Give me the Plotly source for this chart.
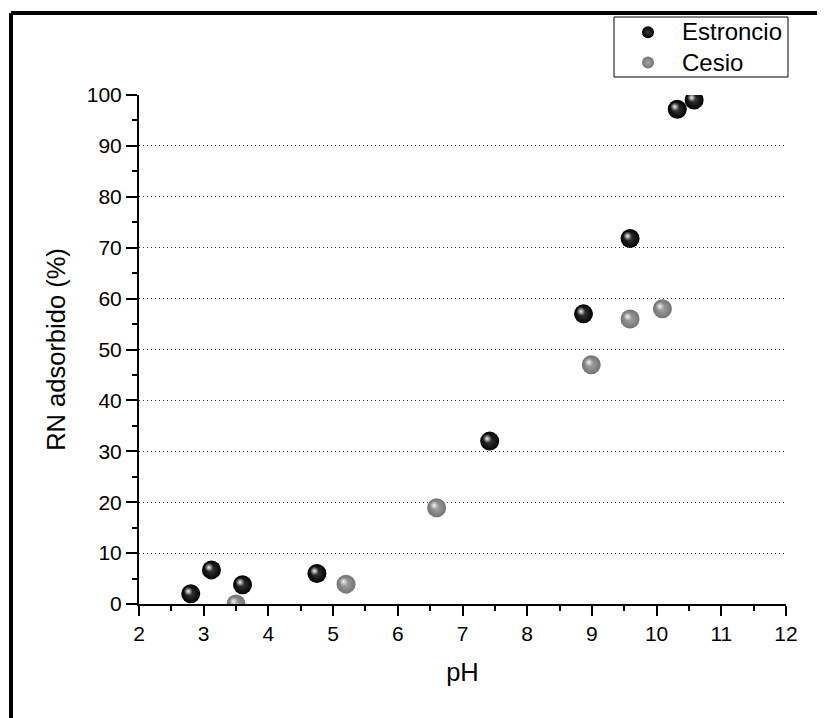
import plotly.graph_objects as go

# Data
sr_ph = [2.80, 3.12, 3.60, 4.75, 7.42, 8.87, 9.59, 10.32, 10.58]
sr_ads = [2.0, 6.7, 3.8, 6.0, 32.0, 57.0, 71.8, 97.2, 99.0]
cs_ph = [3.50, 5.20, 6.60, 8.99, 9.59, 10.09]
cs_ads = [0.0, 3.9, 18.9, 47.0, 56.0, 58.0]
series_names = ["Estroncio", "Cesio"]
x_title = "pH"
y_title = "RN adsorbido (%)"

FONT = "Liberation Sans, Arial, sans-serif"

W, H = 825, 718
L, T = 131, 87
pw, ph = 647, 509
R, B = W - L - pw, H - T - ph

def px2paper(x, y):
    return (x - L) / pw, (H - B - y) / ph

XR = [2, 12]
YR = [0, 100]
# highlight offset (pixels) for sphere shine
hx, hy = 2.5, 2.5
dx = hx * (XR[1] - XR[0]) / pw
dy = hy * (YR[1] - YR[0]) / ph

fig = go.Figure()
fig.add_trace(go.Scatter(
    x=sr_ph, y=sr_ads, mode="markers",
    name="<span style='font-size:24px'>%s</span>" % series_names[0],
    marker=dict(size=19, color="#000000", line=dict(width=0),
                gradient=dict(type="radial", color="#3a3a3a")),
))
fig.add_trace(go.Scatter(
    x=cs_ph, y=cs_ads, mode="markers",
    name="<span style='font-size:24px'>%s</span>" % series_names[1],
    marker=dict(size=19, color="#747474", line=dict(width=0),
                gradient=dict(type="radial", color="#a4a4a4")),
))
for xs, ys in ((sr_ph, sr_ads), (cs_ph, cs_ads)):
    fig.add_trace(go.Scatter(
        x=xs, y=ys, mode="markers", xaxis="x3", yaxis="y3", showlegend=False,
        hoverinfo="skip",
        marker=dict(size=9, color="rgba(220,220,220,0)", line=dict(width=0),
                    gradient=dict(type="radial", color="#f8f8f8")),
    ))

fig.update_layout(
    width=W, height=H,
    margin=dict(l=L, r=R, t=T, b=B, autoexpand=False),
    paper_bgcolor="white", plot_bgcolor="white",
    font=dict(family=FONT, color="black", size=21),
    xaxis=dict(
        range=XR, tick0=2, dtick=1, ticks="outside", ticklen=10, tickwidth=2,
        tickcolor="black", showline=True, linewidth=2, linecolor="black",
        showgrid=False, zeroline=False, tickfont=dict(size=21),
        minor=dict(dtick=0.5, ticks="outside", ticklen=5, tickwidth=2, tickcolor="black", showgrid=False),
        title=dict(text=x_title, font=dict(size=25.5), standoff=19),
        automargin=False,
    ),
    yaxis=dict(
        range=YR, tick0=0, dtick=10, ticks="outside", ticklen=11, tickwidth=2,
        tickcolor="black", showline=True, linewidth=2, linecolor="black",
        showgrid=True, gridcolor="#333333", gridwidth=1, griddash="1px,3px",
        zeroline=False, tickfont=dict(size=21),
        minor=dict(dtick=5, ticks="outside", ticklen=5, tickwidth=2, tickcolor="black", showgrid=False),
        title=dict(text=y_title, font=dict(size=25.5), standoff=14),
        automargin=False,
    ),
    xaxis2=dict(
        overlaying="x", side="top", range=XR, tick0=2, dtick=2,
        ticks="inside", ticklen=10, tickwidth=2, tickcolor="black",
        showline=True, linewidth=2, linecolor="black", showticklabels=False,
        showgrid=False, zeroline=False,
        minor=dict(dtick=1, ticks="inside", ticklen=5, tickwidth=2, tickcolor="black", showgrid=False),
    ),
    yaxis2=dict(
        overlaying="y", side="right", range=YR, tick0=0, dtick=20,
        ticks="inside", ticklen=10, tickwidth=2, tickcolor="black",
        showline=True, linewidth=2, linecolor="black", showticklabels=False,
        showgrid=False, zeroline=False,
        minor=dict(dtick=10, ticks="inside", ticklen=5, tickwidth=2, tickcolor="black", showgrid=False),
    ),
    xaxis3=dict(overlaying="x", range=[XR[0] + dx, XR[1] + dx], visible=False),
    yaxis3=dict(overlaying="y", range=[YR[0] - dy, YR[1] - dy], visible=False),
    showlegend=True,
    legend=dict(
        x=(606 - L) / pw, y=(H - B - 4) / ph, xanchor="left", yanchor="top",
        borderwidth=0, bgcolor="rgba(0,0,0,0)",
        font=dict(size=21, family=FONT), itemsizing="constant",
        itemwidth=58, tracegroupgap=0,
    ),
)

# legend frame
lx0, ly0 = px2paper(606, 9)
lx1, ly1 = px2paper(780, 69)
fig.add_shape(type="rect", xref="paper", yref="paper", x0=lx0, y0=ly0, x1=lx1, y1=ly1,
              line=dict(color="black", width=1), fillcolor="rgba(0,0,0,0)", layer="below")

# outer frame (top and left)
x0, y0 = px2paper(3, 5)
x1, _ = px2paper(830, 5)
_, y1 = px2paper(3, 730)
fig.add_shape(type="line", xref="paper", yref="paper", x0=x0, y0=y0, x1=x1, y1=y0,
              line=dict(color="black", width=4))
fig.add_shape(type="line", xref="paper", yref="paper", x0=x0, y0=y0, x1=x0, y1=y1,
              line=dict(color="black", width=4))

fig.write_html("out.html")
